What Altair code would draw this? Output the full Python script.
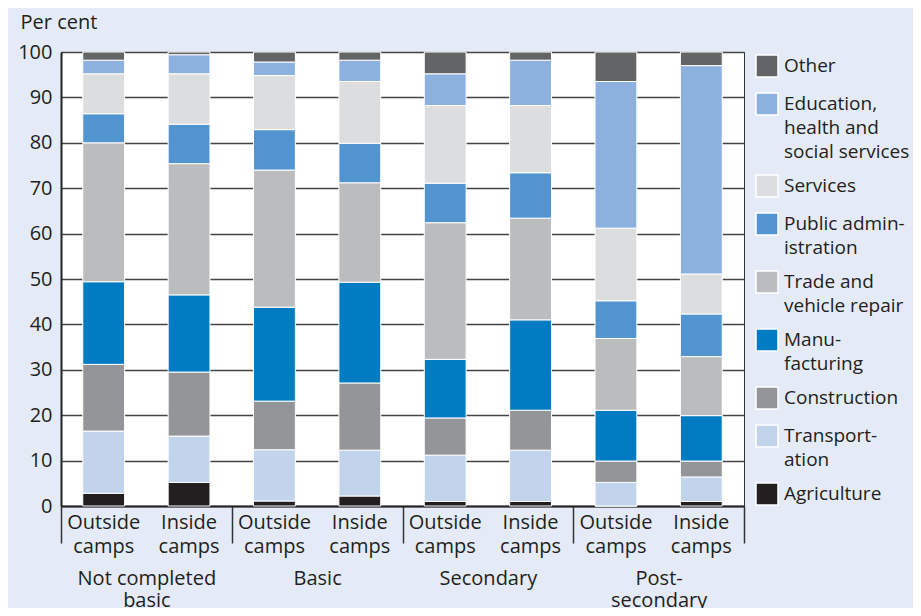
import altair as alt
import pandas as pd

# ---- data (per cent) ----
levels = ["Not completed basic", "Basic", "Secondary", "Post-secondary"]
locations = ["Outside camps", "Inside camps"]
industries = [
    "Agriculture",
    "Transportation",
    "Construction",
    "Manufacturing",
    "Trade and vehicle repair",
    "Public administration",
    "Services",
    "Education, health and social services",
    "Other",
]
# one value per bar: (NCB out, NCB in, Basic out, Basic in, Sec out, Sec in, Post out, Post in)
agriculture    = [2.8, 5.2, 1.1, 2.2, 1.0, 1.0, 0.0, 1.0]
transportation = [13.7, 10.2, 11.3, 10.1, 10.2, 11.3, 5.2, 5.4]
construction   = [14.7, 14.1, 10.7, 14.8, 8.2, 8.8, 4.7, 3.5]
manufacturing  = [18.2, 17.0, 20.7, 22.2, 12.9, 19.9, 11.2, 10.0]
trade          = [30.6, 28.9, 30.2, 21.9, 30.1, 22.4, 15.8, 13.0]
public_admin   = [6.4, 8.7, 8.9, 8.7, 8.7, 10.0, 8.3, 9.4]
services       = [8.8, 11.1, 11.9, 13.6, 17.1, 14.8, 16.0, 8.8]
education      = [3.0, 4.2, 3.0, 4.7, 7.0, 10.0, 32.3, 45.9]
other          = [1.8, 0.6, 2.2, 1.8, 4.8, 1.8, 6.5, 3.0]

series = [agriculture, transportation, construction, manufacturing, trade,
          public_admin, services, education, other]

colors = ["#231F20", "#C2D4EC", "#939598", "#017BC2", "#BBBCBE",
          "#5294D0", "#DCDDDF", "#8DB1DE", "#636466"]

legend_lines = {
    "Other": ["Other"],
    "Education, health and social services": ["Education,", "health and", "social services"],
    "Services": ["Services"],
    "Public administration": ["Public admin-", "istration"],
    "Trade and vehicle repair": ["Trade and", "vehicle repair"],
    "Manufacturing": ["Manu-", "facturing"],
    "Construction": ["Construction"],
    "Transportation": ["Transport-", "ation"],
    "Agriculture": ["Agriculture"],
}
level_lines = {
    "Not completed basic": ["Not completed", "basic"],
    "Basic": ["Basic"],
    "Secondary": ["Secondary"],
    "Post-secondary": ["Post-", "secondary"],
}

bars = [(lv, loc) for lv in levels for loc in locations]
rows = []
for k, ind in enumerate(industries):
    for i, (lv, loc) in enumerate(bars):
        rows.append({"level": lv, "location": loc, "industry": ind,
                     "order": k, "value": series[k][i]})
df = pd.DataFrame(rows)
labels_df = pd.DataFrame([{"level": lv, "location": loc} for lv, loc in bars])

FONT = "Open Sans"
TXT = "#231F20"
W, H = 683, 454

def js_map(d):
    parts = []
    for k, v in d.items():
        arr = ",".join("'" + s + "'" for s in v)
        parts.append("'" + k + "': [" + arr + "]")
    return "{" + ", ".join(parts) + "}"

legend_expr = js_map(legend_lines) + "[datum.label]"
level_expr = js_map(level_lines) + "[datum.label]"

x_enc = alt.X(
    "level:N", sort=levels,
    scale=alt.Scale(paddingInner=0, paddingOuter=0),
    axis=alt.Axis(
        title=None, labelExpr=level_expr, labelAngle=0,
        tickBand="extent", tickSize=37, tickColor="#333333", tickWidth=1.5,
        labelPadding=25, labelBaseline="top", labelLineHeight=22.5,
        labelFontSize=20, labelFont=FONT, labelColor=TXT,
        domainColor="#222222", domainWidth=2,
    ),
)
xoff = alt.XOffset("location:N", sort=locations,
                   scale=alt.Scale(paddingInner=0.51, paddingOuter=0.255))

bars_layer = alt.Chart(df).mark_bar(stroke="white", strokeWidth=1).encode(
    x=x_enc,
    xOffset=xoff,
    y=alt.Y(
        "value:Q", stack="zero",
        scale=alt.Scale(domain=[0, 100], nice=False),
        axis=alt.Axis(
            values=list(range(0, 101, 10)), title="Per cent",
            titleAngle=0, titleAlign="left", titleBaseline="middle",
            titleX=-41, titleY=-30, titleFont=FONT, titleFontSize=20,
            titleFontWeight="normal", titleColor=TXT,
            grid=True, gridColor="#444446", gridWidth=1.3,
            ticks=False, labelPadding=9, labelFontSize=20, labelFont=FONT,
            labelColor=TXT, domainColor="#222222", domainWidth=2,
        ),
    ),
    color=alt.Color(
        "industry:N",
        scale=alt.Scale(domain=industries[::-1], range=colors[::-1]),
        legend=alt.Legend(
            title=None, orient="none", legendX=694, legendY=2, padding=0,
            symbolType="square", symbolSize=484, symbolStrokeColor="white",
            symbolStrokeWidth=1.5, symbolOpacity=1,
            labelFont=FONT, labelFontSize=19, labelColor=TXT, labelOffset=5,
            labelLimit=250, rowPadding=10, labelExpr=legend_expr,
        ),
    ),
    order=alt.Order("order:Q", sort="ascending"),
)

camp_text = alt.Chart(labels_df).mark_text(
    lineBreak=" ", baseline="top", align="center", font=FONT, fontSize=20,
    lineHeight=24, color=TXT,
).encode(
    x=alt.X("level:N", sort=levels),
    xOffset=alt.XOffset("location:N", sort=locations),
    y=alt.value(H + 7),
    text="location:N",
)

chart = alt.layer(bars_layer, camp_text).properties(
    width=W, height=H,
    autosize=alt.AutoSizeParams(type="none"),
    padding={"left": 53, "top": 44, "right": 169, "bottom": 102},
    background="#E4EBF7",
).configure(
    style={"guide-label": {"lineHeight": 24}}
).configure_view(
    fill="white", stroke="#333333", strokeWidth=1
)

chart.save("out.html", embed_options={"renderer": "svg", "actions": False})
